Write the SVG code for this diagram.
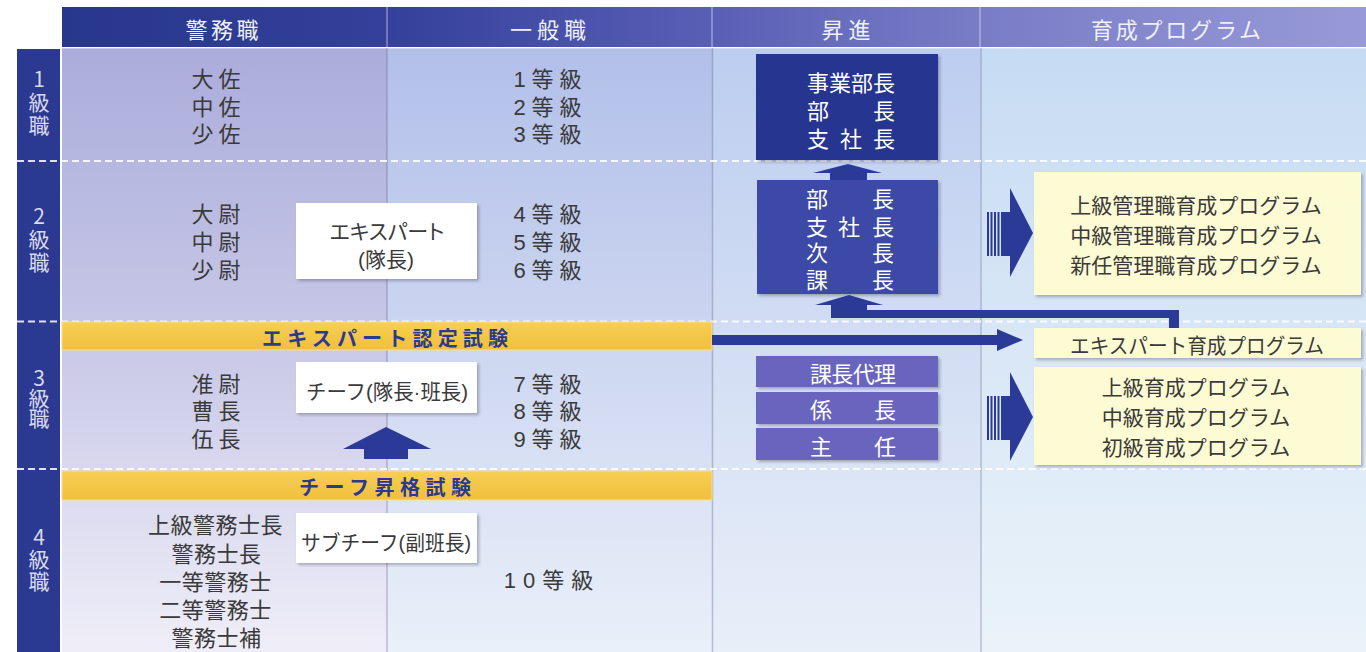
<svg xmlns="http://www.w3.org/2000/svg" xmlns:xlink="http://www.w3.org/1999/xlink" width="1366" height="652" viewBox="0 0 1366 652">
<style>
.t{font-family:"Liberation Sans","Noto Sans CJK JP",sans-serif;font-size:22px;fill:#3a3a3a;text-anchor:middle;dominant-baseline:central;transform:translate(0px,2px)}
.p{font-size:21px}
.palt{font-feature-settings:"palt" 1}
.hd{fill:#eef0fa;font-size:22px}
.w{fill:#ffffff;font-size:22px}
.bar{font-weight:bold;fill:#2b3990;font-size:20px}
.side{font-family:"Noto Sans CJK JP",sans-serif;fill:#d8d8ee;font-size:21px;writing-mode:vertical-rl;text-orientation:upright;transform:none}
.dash{stroke:#ffffff;stroke-opacity:0.85;stroke-width:2;stroke-dasharray:7 4;fill:none}
.vdiv{stroke:#5a5f86;stroke-opacity:0.35;stroke-width:1.5}
.hdiv{stroke:#ffffff;stroke-opacity:0.6;stroke-width:1}
.ybar{fill:url(#gYellow);stroke:#f8e08a;stroke-width:1}
.wbox{fill:#ffffff;filter:url(#shadow)}
.pbox{fill:#fdfbd3;filter:url(#shadow)}
.arrow{fill:#2a3a96}
</style>
<defs>
<linearGradient id="gHead" x1="62" y1="0" x2="1366" y2="0" gradientUnits="userSpaceOnUse">
<stop offset="0" stop-color="#27378c"/>
<stop offset="0.25" stop-color="#34409b"/>
<stop offset="0.5" stop-color="#5a5fb6"/>
<stop offset="0.7" stop-color="#787cc6"/>
<stop offset="1" stop-color="#989ad8"/>
</linearGradient>
<linearGradient id="gC1" x1="0" y1="48" x2="0" y2="652" gradientUnits="userSpaceOnUse">
<stop offset="0" stop-color="#abacdb"/>
<stop offset="0.5" stop-color="#c9c9e8"/>
<stop offset="1" stop-color="#efeef8"/>
</linearGradient>
<linearGradient id="gC2" x1="0" y1="48" x2="0" y2="652" gradientUnits="userSpaceOnUse">
<stop offset="0" stop-color="#b2bfe9"/>
<stop offset="0.5" stop-color="#cdd7f1"/>
<stop offset="1" stop-color="#eaf0f9"/>
</linearGradient>
<linearGradient id="gC3" x1="0" y1="48" x2="0" y2="652" gradientUnits="userSpaceOnUse">
<stop offset="0" stop-color="#bccdef"/>
<stop offset="0.5" stop-color="#d3def4"/>
<stop offset="1" stop-color="#e8eff9"/>
</linearGradient>
<linearGradient id="gC4" x1="0" y1="48" x2="0" y2="652" gradientUnits="userSpaceOnUse">
<stop offset="0" stop-color="#c6dbf3"/>
<stop offset="0.5" stop-color="#d9e7f6"/>
<stop offset="1" stop-color="#eaf3fa"/>
</linearGradient>
<linearGradient id="gYellow" x1="0" y1="0" x2="0" y2="1">
<stop offset="0" stop-color="#f6cf55"/>
<stop offset="1" stop-color="#f1bf3c"/>
</linearGradient>
<filter id="shadow" x="-10%" y="-10%" width="130%" height="140%">
<feDropShadow dx="2" dy="2" stdDeviation="1.5" flood-color="#303050" flood-opacity="0.35"/>
</filter>
<g id="stripedArrow">
<rect x="987" y="212" width="2" height="44"/>
<rect x="990.5" y="212" width="2" height="44"/>
<rect x="994" y="212" width="2" height="44"/>
<rect x="997.5" y="212" width="2" height="44"/>
<rect x="1001" y="212" width="10" height="44"/>
<polygon points="1010,188 1033,233 1010,277"/>
</g>
</defs>

<g id="background">
<rect x="0" y="0" width="1366" height="652" fill="#ffffff"/>
<rect x="62" y="7" width="1304" height="40" fill="url(#gHead)"/>
<line class="hdiv" x1="387" y1="7" x2="387" y2="47"/>
<line class="hdiv" x1="712" y1="7" x2="712" y2="47"/>
<line class="hdiv" x1="980" y1="7" x2="980" y2="47"/>
<rect x="62" y="48" width="325" height="604" fill="url(#gC1)"/>
<rect x="387" y="48" width="325" height="604" fill="url(#gC2)"/>
<rect x="712" y="48" width="268" height="604" fill="url(#gC3)"/>
<rect x="980" y="48" width="386" height="604" fill="url(#gC4)"/>
<rect x="62" y="47" width="1304" height="1.5" fill="#ffffff" fill-opacity="0.7"/>
<rect x="17" y="49" width="43" height="603" fill="#2b3990"/>
<line class="vdiv" x1="387" y1="48" x2="387" y2="652"/>
<line class="vdiv" x1="712.5" y1="48" x2="712.5" y2="652"/>
<line class="vdiv" x1="981" y1="48" x2="981" y2="652"/>
<line class="dash" x1="17" y1="161" x2="1366" y2="161"/>
<line class="dash" x1="17" y1="321.5" x2="1366" y2="321.5"/>
<line class="dash" x1="17" y1="469" x2="1366" y2="469"/>
</g>

<g id="headers">
<text class="t hd" x="222" y="28" textLength="73" lengthAdjust="spacing">警務職</text>
<text class="t hd" x="548" y="28" textLength="76" lengthAdjust="spacing">一般職</text>
<text class="t hd" x="846" y="28" textLength="49" lengthAdjust="spacing">昇進</text>
<text class="t hd" x="1176" y="28" textLength="170" lengthAdjust="spacing">育成プログラム</text>
</g>

<g id="grade-labels">
<text class="t side" x="39" y="103" letter-spacing="2">1級職</text>
<text class="t side" x="39" y="240" letter-spacing="2">2級職</text>
<text class="t side" x="39" y="398" letter-spacing="-1">3級職</text>
<text class="t side" x="39" y="560" letter-spacing="1">4級職</text>
</g>

<g id="exam-expert">
<rect class="ybar" x="62" y="322" width="650" height="28"/>
<text class="t bar" x="385" y="336.5" textLength="246" lengthAdjust="spacing">エキスパート認定試験</text>
</g>
<g id="exam-chief">
<rect class="ybar" x="62" y="471" width="650" height="29"/>
<text class="t bar" x="385" y="485.5" textLength="172" lengthAdjust="spacing">チーフ昇格試験</text>
</g>

<g id="police-ranks">
<text class="t" letter-spacing="5"><tspan x="218.5" y="77">大佐</tspan><tspan x="218.5" y="104.5">中佐</tspan><tspan x="218.5" y="132">少佐</tspan></text>
<text class="t" letter-spacing="5"><tspan x="218.5" y="212">大尉</tspan><tspan x="218.5" y="240">中尉</tspan><tspan x="218.5" y="268">少尉</tspan></text>
<text class="t" letter-spacing="5"><tspan x="218.5" y="382">准尉</tspan><tspan x="218.5" y="409">曹長</tspan><tspan x="218.5" y="437">伍長</tspan></text>
<text class="t" letter-spacing="0.5"><tspan x="215.5" y="523">上級警務士長</tspan><tspan x="216.5" y="552">警務士長</tspan><tspan x="215.5" y="580">一等警務士</tspan><tspan x="215.5" y="608">二等警務士</tspan><tspan x="216.5" y="636">警務士補</tspan></text>
</g>

<g id="general-grades">
<text class="t" letter-spacing="6"><tspan x="550.5" y="77">1等級</tspan><tspan x="550.5" y="104.5">2等級</tspan><tspan x="550.5" y="132">3等級</tspan></text>
<text class="t" letter-spacing="6"><tspan x="550.5" y="212">4等級</tspan><tspan x="550.5" y="240">5等級</tspan><tspan x="550.5" y="268">6等級</tspan></text>
<text class="t" letter-spacing="6"><tspan x="550.5" y="382">7等級</tspan><tspan x="550.5" y="409">8等級</tspan><tspan x="550.5" y="437">9等級</tspan></text>
<text class="t" letter-spacing="7" x="552" y="578">10等級</text>
</g>

<g id="node-expert">
<rect class="wbox" x="296" y="203" width="181" height="76"/>
<text class="t p palt"><tspan x="387" y="229">エキスパート</tspan><tspan x="386" y="257">(隊長)</tspan></text>
</g>
<g id="node-chief">
<rect class="wbox" x="296" y="362" width="181" height="51"/>
<text class="t p" x="387" y="389" textLength="162" lengthAdjust="spacingAndGlyphs">チーフ(隊長·班長)</text>
</g>
<g id="node-subchief">
<rect class="wbox" x="296" y="513" width="181" height="50"/>
<text class="t p" x="386" y="540" textLength="170" lengthAdjust="spacingAndGlyphs">サブチーフ(副班長)</text>
</g>

<g id="node-promo-top">
<rect x="756" y="54" width="182" height="106" fill="#25358f" filter="url(#shadow)"/>
<text class="t w"><tspan x="851" y="81">事業部長</tspan><tspan x="818" y="109">部</tspan><tspan x="884" y="109">長</tspan><tspan x="818" y="137">支</tspan><tspan x="851" y="137">社</tspan><tspan x="884" y="137">長</tspan></text>
</g>
<g id="node-promo-mid">
<rect x="757" y="180" width="181" height="114" fill="#3c48a7" filter="url(#shadow)"/>
<text class="t w"><tspan x="817" y="197">部</tspan><tspan x="883" y="197">長</tspan><tspan x="817" y="225">支</tspan><tspan x="849" y="225">社</tspan><tspan x="883" y="225">長</tspan><tspan x="817" y="251">次</tspan><tspan x="883" y="251">長</tspan><tspan x="817" y="278">課</tspan><tspan x="883" y="278">長</tspan></text>
</g>
<g id="node-deputy">
<rect x="756" y="356" width="182" height="31" fill="#6965be" filter="url(#shadow)"/>
<text class="t w" x="853" y="372" textLength="86" lengthAdjust="spacing">課長代理</text>
</g>
<g id="node-kakaricho">
<rect x="756" y="392" width="182" height="32" fill="#6965be" filter="url(#shadow)"/>
<text class="t w"><tspan x="821" y="408">係</tspan><tspan x="885" y="408">長</tspan></text>
</g>
<g id="node-shunin">
<rect x="756" y="428" width="182" height="32" fill="#6965be" filter="url(#shadow)"/>
<text class="t w"><tspan x="821" y="445">主</tspan><tspan x="885" y="445">任</tspan></text>
</g>

<g id="node-program-mgmt">
<rect class="pbox" x="1034" y="172" width="327" height="123"/>
<text class="t p"><tspan x="1196" y="203">上級管理職育成プログラム</tspan><tspan x="1196" y="233">中級管理職育成プログラム</tspan><tspan x="1196" y="263">新任管理職育成プログラム</tspan></text>
</g>
<g id="node-program-expert">
<rect class="pbox" x="1034" y="328" width="327" height="30"/>
<text class="t p" x="1197" y="343" textLength="254" lengthAdjust="spacingAndGlyphs">エキスパート育成プログラム</text>
</g>
<g id="node-program-staff">
<rect class="pbox" x="1034" y="367" width="327" height="98"/>
<text class="t p"><tspan x="1196" y="385">上級育成プログラム</tspan><tspan x="1196" y="415">中級育成プログラム</tspan><tspan x="1196" y="445">初級育成プログラム</tspan></text>
</g>

<g id="connectors">
<polygon class="arrow" points="386,427 431,449 408,449 408,459 364,459 364,449 343,449"/>
<polygon class="arrow" points="848,164 882,173 867,173 867,180 830,180 830,173 813,173"/>
<polygon class="arrow" points="849,295 883,305 867,305 867,310 1179,310 1179,328 1169,328 1169,318 831,318 831,305 815,305"/>
<polygon class="arrow" points="712,335 997,335 997,329 1023,340 997,351 997,345 712,345"/>
<use xlink:href="#stripedArrow" class="arrow"/>
<use xlink:href="#stripedArrow" class="arrow" transform="translate(0,184)"/>
</g>
</svg>
